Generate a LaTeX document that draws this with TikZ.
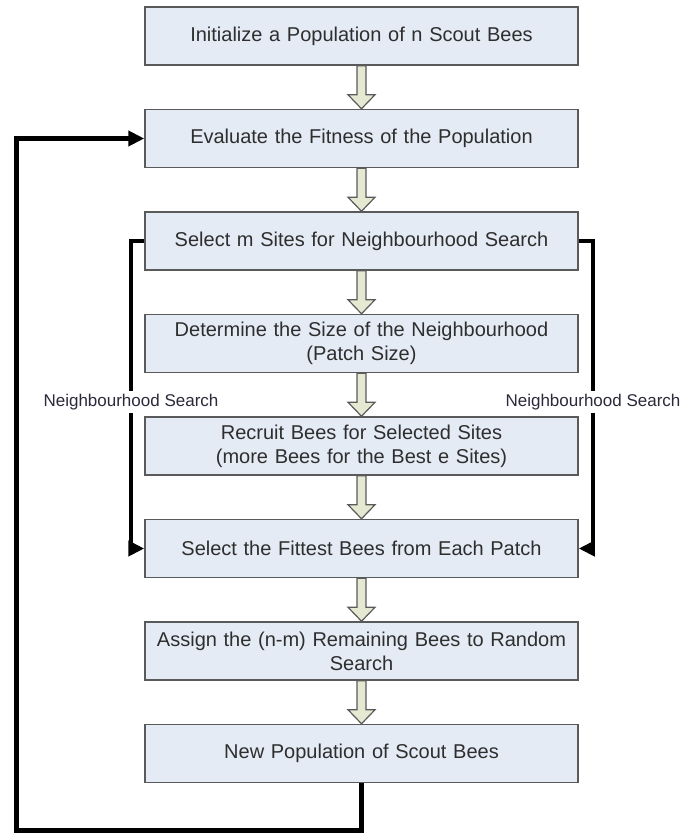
\documentclass[tikz,border=0pt]{standalone}
\usepackage{fontspec}
\setmainfont{Liberation Sans}
\usetikzlibrary{positioning,calc,arrows.meta}

\definecolor{boxfill}{HTML}{E4EBF5}
\definecolor{boxline}{HTML}{5A5A5A}
\definecolor{arrowfill}{HTML}{E5E9D2}
\definecolor{boxtext}{HTML}{2E2E2E}
\definecolor{labeltext}{HTML}{2A2A3A}

% hollow block arrow from the bottom of #1 to the top of #2
\newcommand{\fatarrow}[2]{%
  \filldraw[hollowarrow] ($(#1.south)+(-4.5,0)$) -- ($(#2.north)+(-4.5,14)$) -- ++(-9,0) -- (#2.north)
    -- ($(#2.north)+(13.5,14)$) -- ++(-9,0) -- ($(#1.south)+(4.5,0)$) -- cycle;}

\begin{document}
\begin{tikzpicture}[x=1pt, y=1pt,
  stage/.style={draw=boxline, line width=1.5pt, fill=boxfill, minimum width=433pt, minimum height=58pt,
    text width=425pt, align=center, inner sep=0pt, font=\fontsize{20}{24}\selectfont, text=boxtext},
  hollowarrow/.style={draw=boxline, line width=1.2pt, fill=arrowfill, line join=miter},
  sidepath/.style={line width=4.5pt},
  loopback/.style={line width=5pt},
  feedarrow/.style={-{Triangle[length=16pt,width=15pt]}},
  sidelabel/.style={fill=white, inner sep=3pt, font=\fontsize{17}{20}\selectfont, text=labeltext},
  node distance=43pt]
\useasboundingbox (0,0) rectangle (680,-834);

\node[stage] (init) at (361.5,-36) {Initialize a Population of n Scout Bees};
\node[stage, below=of init] (eval) {Evaluate the Fitness of the Population};
\node[stage, below=of eval] (select) {Select m Sites for Neighbourhood Search};
\node[stage, below=of select] (patch) {Determine the Size of the Neighbourhood\\(Patch Size)};
\node[stage, below=of patch] (recruit) {Recruit Bees for Selected Sites\\(more Bees for the Best e Sites)};
\node[stage, below=of recruit] (fittest) {Select the Fittest Bees from Each Patch};
\node[stage, below=of fittest] (assign) {Assign the (n-m) Remaining Bees to Random\\Search};
\node[stage, below=of assign] (newpop) {New Population of Scout Bees};

\fatarrow{init}{eval}
\fatarrow{eval}{select}
\fatarrow{select}{patch}
\fatarrow{patch}{recruit}
\fatarrow{recruit}{fittest}
\fatarrow{fittest}{assign}
\fatarrow{assign}{newpop}

% neighbourhood search loops
\node[sidelabel] (leftlab) at (131,-402) {Neighbourhood Search};
\node[sidelabel] (rightlab) at (593,-402) {Neighbourhood Search};
\draw[sidepath] (select.west) -| (leftlab.north);
\draw[sidepath, feedarrow] (leftlab.south) |- (fittest.west);
\draw[sidepath] (select.east) -| (rightlab.north);
\draw[sidepath, feedarrow] (rightlab.south) |- (fittest.east);

% back to evaluation
\coordinate (loopcorner) at (16,-830);
\draw[loopback, feedarrow] (newpop.south) |- (loopcorner) |- (eval.west);
\end{tikzpicture}
\end{document}
